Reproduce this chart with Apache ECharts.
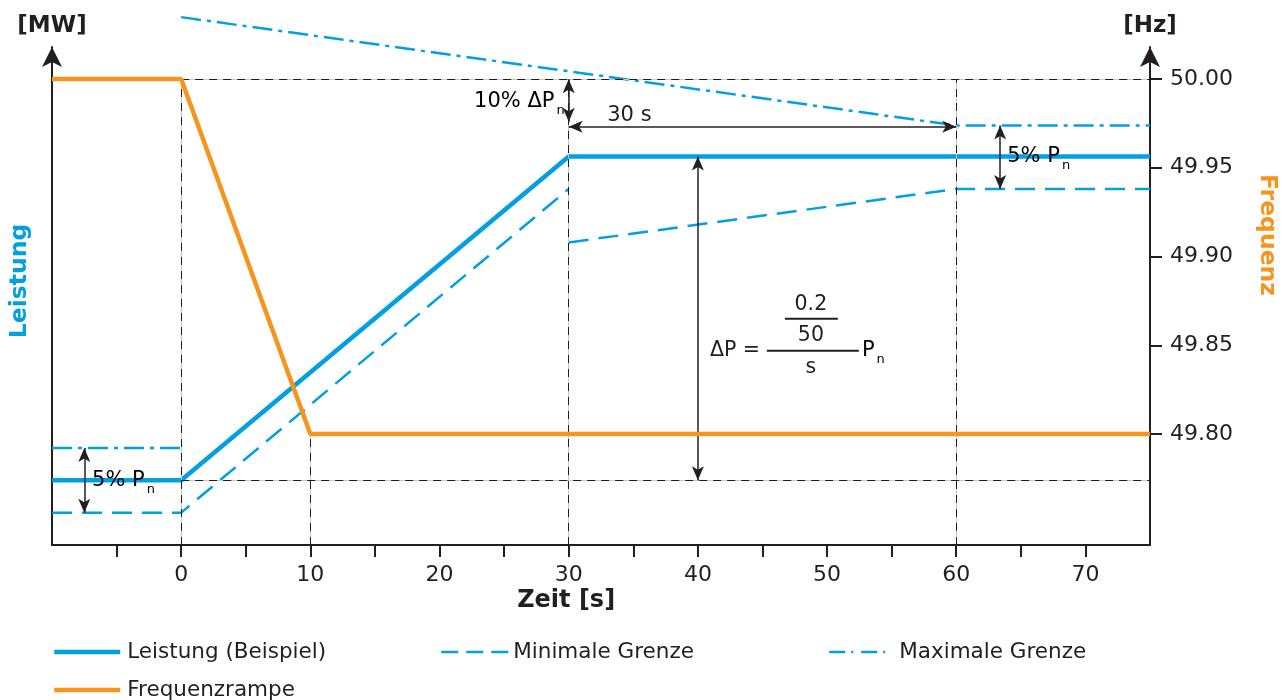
<!DOCTYPE html>
<html>
<head>
<meta charset="utf-8">
<script src="https://cdn.jsdelivr.net/npm/echarts@6/dist/echarts.min.js"></script>
<style>
  html, body { margin: 0; padding: 0; background: #fff; }
  #chart { width: 1288px; height: 700px; }
</style>
</head>
<body>
<div id="chart"></div>
<script>
// ---- data ----------------------------------------------------------------
// time axis [s]
const xTickValues = [-5, 0, 5, 10, 15, 20, 25, 30, 35, 40, 45, 50, 55, 60, 65, 70];
const xLabelValues = [0, 10, 20, 30, 40, 50, 60, 70];
// frequency axis [Hz]
const hzTickValues = [49.80, 49.85, 49.90, 49.95, 50.00];

// Leistung (Beispiel) [MW]
const powerTime = [-10, 0, 30, 75];
const powerMW   = [5.2, 5.2, 31.2, 31.2];

// Frequenzrampe [Hz]
const freqTime = [-10, 0, 10, 75];
const freqHz   = [50.00, 50.00, 49.80, 49.80];

// Minimale Grenze [MW] (null = gap between segments)
const minTime = [-10, 0, 30, 30, 30, 60, 75];
const minMW   = [2.6, 2.6, 28.6, null, 24.3, 28.6, 28.6];

// Maximale Grenze [MW]
const maxTime = [-10, 0, 0, 0, 60, 75];
const maxMW   = [7.8, 7.8, null, 42.4, 33.7, 33.7];

// guide lines
const hzGuideTimes  = [0, 30, 60];      // verticals up to 50.00 Hz
const hzGuideLow    = [10];             // vertical up to 49.80 Hz
const freqStart = 50.00, freqEnd = 49.80;

// dimension arrows [s, MW]
const arrowDp10  = [[30, 37.4], [30, 34.0]];
const arrow30s   = [[30, 33.6], [60, 33.6]];
const arrowPnR   = [[63.4, 33.7], [63.4, 28.6]];
const arrowPnL   = [[-7.5, 7.8], [-7.5, 2.6]];
const arrowDelta = [[40, 31.2], [40, 5.2]];

// ---- styles ---------------------------------------------------------------
const FONT = '"DejaVu Sans", "Noto Sans", sans-serif';
const BLUE = '#00a0e1';
const ORANGE = '#f7941d';
const INK = '#231f20';
const MW_MIN = 0, MW_MAX = 40.0;
const HZ_MIN = 49.7375, HZ_MAX = 50.018;

const pairs = (xs, ys) => xs.map((x, i) => [x, ys[i] === null ? '-' : ys[i]]);

const chart = echarts.init(document.getElementById('chart'), null, { renderer: 'canvas' });

function guidePair(a, b) {
  return [
    [{ coord: a, lineStyle: { color: '#c9c9c9', width: 1, type: 'solid' } }, { coord: b }],
    [{ coord: a, lineStyle: { color: '#1e1e1e', width: 1, type: [8, 6] } }, { coord: b }]
  ];
}

const hzGuides = [];
hzGuideTimes.forEach(t => hzGuides.push(...guidePair([t, HZ_MIN], [t, freqStart])));
hzGuideLow.forEach(t => hzGuides.push(...guidePair([t, HZ_MIN], [t, freqEnd])));
hzGuides.push(...guidePair([0, freqStart], [75, freqStart]));

const mwGuides = guidePair([0, powerMW[0]], [75, powerMW[0]]);

const arrows = [arrowDp10, arrow30s, arrowPnR, arrowPnL, arrowDelta].map(a => [
  { coord: a[0] }, { coord: a[1] }
]);

const axisLineStyle = { color: INK, width: 2 };

function legendItem(left, top, name, lineStyle, iconWidth, textGap) {
  return {
    left: left, top: top, data: [name],
    orient: 'horizontal',
    padding: 0,
    itemWidth: iconWidth,
    itemHeight: 14,
    itemGap: 0,
    selectedMode: false,
    itemStyle: { opacity: 0 },
    lineStyle: lineStyle,
    textStyle: { fontSize: 21.5, color: INK, fontFamily: FONT, padding: [0, 0, 0, textGap] }
  };
}

chart.setOption({
  animation: false,
  backgroundColor: '#ffffff',
  textStyle: { fontFamily: FONT, color: INK },
  grid: { left: 52, right: 138, top: 47, bottom: 155, containLabel: false },
  xAxis: {
    type: 'value',
    min: -10,
    max: 75,
    axisLine: { show: true, onZero: false, lineStyle: axisLineStyle },
    axisTick: { show: true, customValues: xTickValues, length: 12, lineStyle: { color: INK, width: 2 } },
    axisLabel: { show: true, customValues: xLabelValues, fontSize: 22, color: INK, margin: 19, fontFamily: FONT },
    splitLine: { show: false }
  },
  yAxis: [
    {
      type: 'value',
      position: 'left',
      min: MW_MIN,
      max: MW_MAX,
      name: '[MW]',
      nameLocation: 'end',
      nameGap: 9,
      nameTextStyle: { fontSize: 23, fontWeight: 'bold', color: INK, fontFamily: FONT },
      axisLine: { show: true, onZero: false, lineStyle: axisLineStyle, symbol: ['none', 'arrow'], symbolSize: [15, 20] },
      axisTick: { show: false },
      axisLabel: { show: false },
      splitLine: { show: false }
    },
    {
      type: 'value',
      position: 'right',
      min: HZ_MIN,
      max: HZ_MAX,
      name: '[Hz]',
      nameLocation: 'end',
      nameGap: 9,
      nameTextStyle: { fontSize: 23, fontWeight: 'bold', color: INK, fontFamily: FONT },
      axisLine: { show: true, onZero: false, lineStyle: axisLineStyle, symbol: ['none', 'arrow'], symbolSize: [15, 20] },
      axisTick: { show: true, customValues: hzTickValues, length: 12, lineStyle: { color: INK, width: 2 } },
      axisLabel: {
        show: true, customValues: hzTickValues, fontSize: 22, color: INK, margin: 20, fontFamily: FONT,
        formatter: v => v.toFixed(2)
      },
      splitLine: { show: false }
    }
  ],
  legend: [
    legendItem(52, 641, 'Leistung (Beispiel)', { width: 4.5 }, 66, 2),
    legendItem(440, 641, 'Minimale Grenze', { width: 2.5, type: [17, 8] }, 67, 0),
    legendItem(828, 641, 'Maximale Grenze', { width: 2.5, type: [16, 6, 2, 8] }, 58, 7),
    legendItem(52, 679, 'Frequenzrampe', { width: 4.5 }, 66, 2)
  ],
  series: [
    {
      name: 'guidesHz', type: 'line', yAxisIndex: 1, data: [], silent: true, z: 1,
      markLine: { silent: true, symbol: 'none', label: { show: false }, animation: false, data: hzGuides }
    },
    {
      name: 'guidesMW', type: 'line', yAxisIndex: 0, data: [], silent: true, z: 1,
      markLine: { silent: true, symbol: 'none', label: { show: false }, animation: false, data: mwGuides }
    },
    {
      name: 'Minimale Grenze', type: 'line', yAxisIndex: 0, symbol: 'none', z: 3,
      lineStyle: { color: BLUE, width: 2.5, type: [20, 10] },
      itemStyle: { color: BLUE },
      data: pairs(minTime, minMW)
    },
    {
      name: 'Maximale Grenze', type: 'line', yAxisIndex: 0, symbol: 'none', z: 3, clip: false,
      lineStyle: { color: BLUE, width: 2.5, type: [20, 6, 4, 6] },
      itemStyle: { color: BLUE },
      data: pairs(maxTime, maxMW)
    },
    {
      name: 'Leistung (Beispiel)', type: 'line', yAxisIndex: 0, symbol: 'none', z: 4,
      lineStyle: { color: BLUE, width: 4.5 },
      itemStyle: { color: BLUE },
      data: pairs(powerTime, powerMW)
    },
    {
      name: 'Frequenzrampe', type: 'line', yAxisIndex: 1, symbol: 'none', z: 5,
      lineStyle: { color: ORANGE, width: 4.5 },
      itemStyle: { color: ORANGE },
      data: pairs(freqTime, freqHz)
    },
    {
      name: 'arrows', type: 'line', yAxisIndex: 0, data: [], silent: true, z: 6,
      markLine: {
        silent: true, symbol: ['arrow', 'arrow'], symbolSize: [9, 14], label: { show: false }, animation: false,
        lineStyle: { color: INK, width: 1.5, type: 'solid' },
        data: arrows
      }
    }
  ]
});

// ---- annotation texts, placed through the axis scales ---------------------
const px = (x, y) => chart.convertToPixel({ xAxisIndex: 0, yAxisIndex: 0 }, [x, y]);

const subRich = {
  m: { fontSize: 21, color: INK, fontFamily: FONT, lineHeight: 32 },
  s: { fontSize: 13, color: INK, fontFamily: FONT, padding: [18, 0, 0, 2] }
};

function subText(pos, main, sub, align) {
  return {
    type: 'text', x: pos[0], y: pos[1], z: 100,
    style: { text: '{m|' + main + '}{s|' + sub + '}', rich: subRich, align: align, verticalAlign: 'middle' }
  };
}

function plainText(x, y, text, opts) {
  return {
    type: 'text', x: x, y: y, z: 100, rotation: (opts && opts.rotation) || 0,
    style: Object.assign({
      text: text, fill: INK, fontSize: 20.5, fontFamily: FONT, align: 'center', verticalAlign: 'middle'
    }, opts && opts.style)
  };
}

function hline(x1, x2, y) {
  return { type: 'line', z: 100, shape: { x1: x1, y1: y, x2: x2, y2: y }, style: { stroke: INK, lineWidth: 2 } };
}

const pDp10 = px(30, 35.6);
const p30s = px(34.7, 34.5);
const pPnR = px(63.95, 31.2);
const pPnL = px(-6.9, 5.2);
const pForm = px(40, 15.6);
const fx = pForm[0], fy = pForm[1];
const bottomY = px(0, 0)[1];

chart.setOption({
  graphic: [
    subText([pDp10[0] - 4, pDp10[1]], '10% ΔP', 'n', 'right'),
    plainText(p30s[0], p30s[1], '30 s', { style: { fontSize: 21 } }),
    subText(pPnR, '5% P', 'n', 'left'),
    subText(pPnL, '5% P', 'n', 'left'),
    // ΔP = (0.2 / 50) / s · Pn
    plainText(fx + 12, fy, 'ΔP =', { style: { align: 'left' } }),
    hline(fx + 69, fx + 161, fy),
    plainText(fx + 113, fy - 46, '0.2'),
    hline(fx + 87, fx + 140, fy - 32),
    plainText(fx + 113, fy - 15, '50'),
    plainText(fx + 113, fy + 17, 's'),
    subText([fx + 164, fy], 'P', 'n', 'left'),
    // axis titles
    plainText(px(29.8, 0)[0], bottomY + 56, 'Zeit [s]', { style: { fontSize: 24, fontWeight: 'bold' } }),
    plainText(20, 281, 'Leistung', { rotation: Math.PI / 2, style: { fontSize: 23.5, fontWeight: 'bold', fill: BLUE } }),
    plainText(1267, 235, 'Frequenz', { rotation: -Math.PI / 2, style: { fontSize: 23.5, fontWeight: 'bold', fill: ORANGE } })
  ]
});
</script>
</body>
</html>
